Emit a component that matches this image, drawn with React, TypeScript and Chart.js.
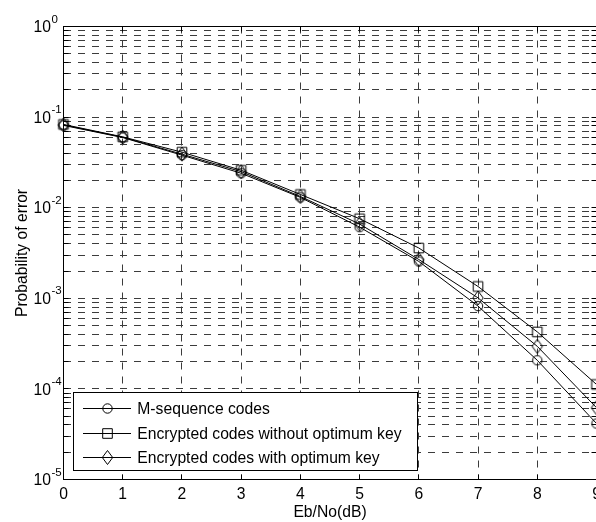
import { useEffect, useRef } from 'react';
import { Chart, registerables } from 'chart.js';

Chart.register(...registerables);

// Eb/No in dB
const snrDb = [0, 1, 2, 3, 4, 5, 6, 7, 8, 9];

// Bit error probability per curve
const mSequence = [0.081, 0.0595, 0.038, 0.024, 0.0130, 0.0061, 0.00255, 0.00082, 0.000207, 0.0000415];
const encryptedWithoutKey = [0.083, 0.0605, 0.041, 0.0259, 0.0140, 0.00756, 0.00359, 0.00135, 0.000426, 0.000112];
const encryptedWithKey = [0.082, 0.060, 0.039, 0.025, 0.0133, 0.0066, 0.00268, 0.00101, 0.000295, 0.000062];

const seriesNames = [
  'M-sequence codes',
  'Encrypted codes without optimum key',
  'Encrypted codes with optimum key',
];

const xTicks = [0, 1, 2, 3, 4, 5, 6, 7, 8, 9];
const decades = [-5, -4, -3, -2, -1, 0];

const FONT = '"Liberation Sans", Arial, Helvetica, sans-serif';
const LABEL_SIZE = 15.7;
const EXP_SIZE = 11.5;

// every 1..9 x 10^n position on the log axis
const yTickValues: number[] = [];
decades.forEach((e) => {
  if (e === 0) {
    yTickValues.push(1);
  } else {
    for (let m = 1; m <= 9; m++) yTickValues.push(m * Math.pow(10, e));
  }
});

type MarkerKind = 'circle' | 'square' | 'diamond';
const markerKinds: MarkerKind[] = ['circle', 'square', 'diamond'];

function strokeMarker(ctx: CanvasRenderingContext2D, kind: MarkerKind, x: number, y: number) {
  ctx.beginPath();
  if (kind === 'circle') {
    ctx.arc(x, y, 4.7, 0, Math.PI * 2);
  } else if (kind === 'square') {
    ctx.rect(x - 4.8, y - 4.8, 9.6, 9.6);
  } else {
    ctx.moveTo(x, y - 7);
    ctx.lineTo(x + 5.2, y);
    ctx.lineTo(x, y + 7);
    ctx.lineTo(x - 5.2, y);
    ctx.closePath();
  }
  ctx.stroke();
}

function markerImage(kind: MarkerKind): HTMLCanvasElement {
  const c = document.createElement('canvas');
  c.width = 16;
  c.height = 16;
  const g = c.getContext('2d')!;
  g.strokeStyle = '#000';
  g.lineWidth = 1;
  strokeMarker(g, kind, 8, 8);
  return c;
}

const frameAndLabels = {
  id: 'frameAndLabels',
  afterDraw(chart: any) {
    const { ctx, chartArea: a, scales } = chart;
    const xs = scales.x;
    const ys = scales.y;
    const align = (p: number) => Math.round(p - 0.5) + 0.5;
    const top = align(a.top);
    const bottom = align(a.bottom);
    const left = align(a.left);
    const right = align(a.right);

    ctx.save();
    ctx.strokeStyle = '#000';
    ctx.lineWidth = 1;
    ctx.setLineDash([]);

    // box edges
    ctx.beginPath();
    ctx.moveTo(left, top);
    ctx.lineTo(right, top);
    ctx.lineTo(right, bottom);
    ctx.stroke();

    // inward tick marks
    const tl = 5;
    ctx.beginPath();
    xTicks.forEach((v) => {
      const px = align(xs.getPixelForValue(v));
      ctx.moveTo(px, bottom);
      ctx.lineTo(px, bottom - tl);
      ctx.moveTo(px, top);
      ctx.lineTo(px, top + tl);
    });
    yTickValues.forEach((v) => {
      const py = align(ys.getPixelForValue(v));
      ctx.moveTo(left, py);
      ctx.lineTo(left + tl, py);
      ctx.moveTo(right, py);
      ctx.lineTo(right - tl, py);
    });
    ctx.stroke();

    // decade labels 10^n
    ctx.fillStyle = '#000';
    ctx.textAlign = 'left';
    ctx.textBaseline = 'alphabetic';
    decades.forEach((e) => {
      const py = ys.getPixelForValue(Math.pow(10, e));
      ctx.font = `${LABEL_SIZE}px ${FONT}`;
      const baseX = 33.5;
      ctx.fillText('10', baseX, py + 5.6);
      const w = ctx.measureText('10').width;
      ctx.font = `${EXP_SIZE}px ${FONT}`;
      ctx.fillText(String(e), baseX + w + 0.5, py - 4);
    });

    // legend box
    const lx = 73.5;
    const ly = 392.5;
    const lw = 344;
    const lh = 78;
    ctx.fillStyle = '#fff';
    ctx.fillRect(lx, ly, lw, lh);
    ctx.strokeRect(lx, ly, lw, lh);
    ctx.fillStyle = '#000';
    ctx.font = `${LABEL_SIZE}px ${FONT}`;
    seriesNames.forEach((name, i) => {
      const cy = 408 + i * 24.7;
      ctx.beginPath();
      ctx.moveTo(83, Math.round(cy) + 0.5);
      ctx.lineTo(131, Math.round(cy) + 0.5);
      ctx.stroke();
      strokeMarker(ctx, markerKinds[i], 107.5, Math.round(cy) + 0.5);
      ctx.fillText(name, 137.3, cy + 6);
    });

    ctx.restore();
  },
};

export default function App() {
  const canvasRef = useRef<HTMLCanvasElement | null>(null);

  useEffect(() => {
    const canvas = canvasRef.current;
    if (!canvas) return;

    const series = [mSequence, encryptedWithoutKey, encryptedWithKey];
    const datasets = series.map((vals, i) => ({
      label: seriesNames[i],
      data: snrDb.map((x, j) => ({ x, y: vals[j] })),
      borderColor: '#000',
      borderWidth: 1,
      backgroundColor: 'transparent',
      pointStyle: markerImage(markerKinds[i]) as any,
      pointRadius: 5,
      pointBorderColor: '#000',
      pointBackgroundColor: 'transparent',
      pointBorderWidth: 1,
      tension: 0,
      clip: false as any,
    }));

    const gridCommon = {
      color: '#3c3c3c',
      lineWidth: 1,
      drawTicks: false,
      tickLength: 0,
    };

    const chart = new Chart(canvas, {
      type: 'line',
      data: { datasets },
      plugins: [frameAndLabels],
      options: {
        animation: false,
        responsive: false,
        devicePixelRatio: 1,
        events: [],
        layout: { padding: { top: 26.5, right: 43.5, bottom: 0, left: 0 } },
        plugins: {
          legend: { display: false },
          tooltip: { enabled: false },
        },
        scales: {
          x: {
            type: 'linear',
            min: 0,
            max: 9,
            afterBuildTicks: (s: any) => {
              s.ticks = xTicks.map((v) => ({ value: v }));
            },
            afterFit: (s: any) => {
              s.height = 42.5;
            },
            ticks: {
              color: '#000',
              padding: 5.4,
              maxRotation: 0,
              autoSkip: false,
              font: { family: FONT, size: LABEL_SIZE },
            },
            grid: gridCommon,
            border: { display: true, color: '#000', width: 1, dash: [7, 7] },
            title: {
              display: true,
              text: 'Eb/No(dB)',
              color: '#000',
              padding: { top: 0, bottom: 0 },
              font: { family: FONT, size: LABEL_SIZE },
            },
          },
          y: {
            type: 'logarithmic',
            min: 1e-5,
            max: 1,
            afterBuildTicks: (s: any) => {
              s.ticks = yTickValues.map((v) => ({ value: v }));
            },
            afterFit: (s: any) => {
              s.width = 63.5;
            },
            ticks: { display: false },
            grid: gridCommon,
            border: { display: true, color: '#000', width: 1, dash: [7, 7] },
            title: {
              display: true,
              text: 'Probability of error',
              color: '#000',
              padding: { top: 13.6, bottom: 0 },
              font: { family: FONT, size: LABEL_SIZE },
            },
          },
        },
      },
    } as any);

    return () => chart.destroy();
  }, []);

  return (
    <div
      style={{
        position: 'fixed',
        left: 0,
        top: 0,
        width: 596,
        height: 522,
        overflow: 'hidden',
        background: '#fff',
      }}
    >
      <canvas ref={canvasRef} width={640} height={522} style={{ width: 640, height: 522, display: 'block' }} />
    </div>
  );
}
